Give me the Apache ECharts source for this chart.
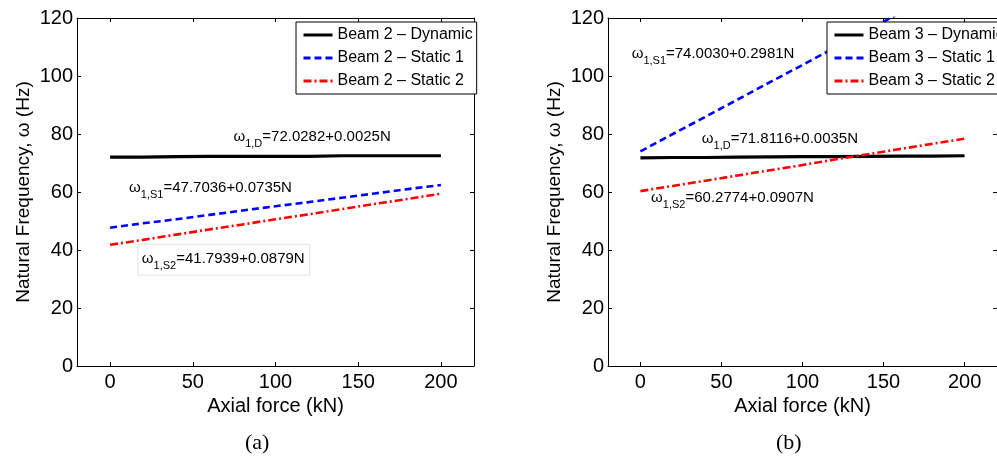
<!DOCTYPE html>
<html><head><meta charset="utf-8">
<script src="https://cdn.jsdelivr.net/npm/echarts@6/dist/echarts.min.js"></script>
<style>html,body{margin:0;padding:0;background:#fff}#c{width:997px;height:456px}</style>
</head><body><div id="c"></div>
<script>
// ---- data ----
const forceKN = [0, 20, 40, 60, 80, 100, 120, 140, 160, 180, 200];
const beam2Dynamic = [72.0, 72.0, 72.2, 72.3, 72.3, 72.3, 72.3, 72.5, 72.5, 72.5, 72.5];
const beam2Static1 = [47.7, 49.2, 50.6, 52.1, 53.6, 55.1, 56.5, 58.0, 59.5, 61.0, 62.4];
const beam2Static2 = [41.8, 43.5, 45.3, 47.1, 48.8, 50.6, 52.3, 54.1, 55.9, 57.6, 59.4];
const beam3Dynamic = [71.8, 71.9, 71.9, 72.0, 72.1, 72.2, 72.2, 72.3, 72.4, 72.4, 72.5];
const beam3Static1 = [74.0, 80.0, 85.9, 91.9, 97.9, 103.8, 109.8, 115.7, 121.7, 127.7, 133.6];
const beam3Static2 = [60.3, 62.1, 63.9, 65.7, 67.5, 69.3, 71.2, 73.0, 74.8, 76.6, 78.4];
const xTicks = [0, 50, 100, 150, 200];
const beam2Names = ['Beam 2 \u2013 Dynamic', 'Beam 2 \u2013 Static 1', 'Beam 2 \u2013 Static 2'];
const beam3Names = ['Beam 3 \u2013 Dynamic', 'Beam 3 \u2013 Static 1', 'Beam 3 \u2013 Static 2'];
// annotation texts: subscript, equation, anchor x (kN), anchor y (Hz)
const ann2Sub = ['1,D', '1,S1', '1,S2'];
const ann2Eq = ['=72.0282+0.0025N', '=47.7036+0.0735N', '=41.7939+0.0879N'];
const ann2X = [74.6, 11.5, 16.8];
const ann2Y = [79.6, 62.0, 37.0];
const ann3Sub = ['1,D', '1,S1', '1,S2'];
const ann3Eq = ['=71.8116+0.0035N', '=74.0030+0.2981N', '=60.2774+0.0907N'];
const ann3X = [37.9, -5.4, 6.6];
const ann3Y = [78.8, 108.0, 58.6];

const FONT = "'Liberation Sans', Arial, sans-serif";
const chart = echarts.init(document.getElementById('c'), null, {renderer: 'canvas'});

const rich = {
  m: {fontSize: 15, fontFamily: FONT, color: '#000', lineHeight: 16, verticalAlign: 'top'},
  s: {fontSize: 11, fontFamily: FONT, color: '#000', lineHeight: 20, verticalAlign: 'bottom'}
};
function annPoint(sub, eq, x, y, boxed) {
  const label = {
    show: true, position: 'right', distance: 0,
    formatter: '{m|\u03c9}{s|' + sub + '}{m|' + eq + '}',
    rich: rich, offset: [0, 4]
  };
  if (boxed) {
    Object.assign(label, {borderColor: '#dde7e7', borderWidth: 1, padding: [7, 5, 0, 4], height: 24, offset: [0, 1]});
  }
  return {coord: [x, y], symbolSize: 0, label: label};
}

const styles = [
  {color: '#000000', width: 3.2, type: 'solid'},
  {color: '#0000ff', width: 2.6, type: [7, 4]},
  {color: '#ff0000', width: 2.6, type: [8, 3, 2, 3]}
];
function mkSeries(name, data, idx, sty, ann) {
  return {
    name: name, type: 'line', xAxisIndex: idx, yAxisIndex: idx,
    data: forceKN.map((f, i) => [f, data[i]]),
    symbol: 'none', showSymbol: false, clip: true, animation: false,
    lineStyle: {color: sty.color, width: sty.width, type: sty.type},
    itemStyle: {color: sty.color},
    markPoint: ann ? {symbol: 'circle', symbolSize: 0, animation: false, data: [ann]} : undefined
  };
}

function xAx(grid, pos, labels) {
  return {
    type: 'value', gridIndex: grid, position: pos, min: -20, max: 220,
    axisLine: {show: true, onZero: false, lineStyle: {color: '#000', width: 1}},
    axisTick: {show: true, inside: true, length: 4, customValues: xTicks, lineStyle: {color: '#000'}},
    axisLabel: {show: labels, customValues: xTicks, fontSize: 20, fontFamily: FONT, color: '#000', margin: 6},
    splitLine: {show: false},
    name: labels ? 'Axial force (kN)' : '', nameLocation: 'middle', nameGap: 22,
    nameTextStyle: {fontSize: 20, fontFamily: FONT, color: '#000'}
  };
}
function yAx(grid, pos, labels) {
  return {
    type: 'value', gridIndex: grid, position: pos, min: 0, max: 120, interval: 20,
    axisLine: {show: true, onZero: false, lineStyle: {color: '#000', width: 1}},
    axisTick: {show: true, inside: true, length: 4, lineStyle: {color: '#000'}},
    axisLabel: {show: labels, fontSize: 20, fontFamily: FONT, color: '#000', margin: 4},
    splitLine: {show: false},
    name: labels ? 'Natural Frequency, \u03c9 (Hz)' : '', nameLocation: 'middle', nameGap: 44, nameRotate: 90,
    nameTextStyle: {fontSize: 19, fontFamily: FONT, color: '#000'}
  };
}
function legendCfg(names, left) {
  return {
    data: names, left: left, top: 22, orient: 'vertical', selectedMode: false,
    itemWidth: 29, itemHeight: 14, itemGap: 7, padding: [5, 4, 5, 6],
    borderColor: '#000', borderWidth: 1, backgroundColor: '#fff', borderRadius: 0,
    itemStyle: {opacity: 0},
    lineStyle: {width: 3},
    textStyle: {fontSize: 16, fontFamily: FONT, color: '#000'}
  };
}

const option = {
  animation: false,
  backgroundColor: '#fff',
  grid: [
    {left: 77, top: 18, width: 397, height: 348},
    {left: 608, top: 18, width: 399, height: 348}
  ],
  xAxis: [xAx(0, 'bottom', true), xAx(0, 'top', false), xAx(1, 'bottom', true), xAx(1, 'top', false)],
  yAxis: [yAx(0, 'left', true), yAx(0, 'right', false), yAx(1, 'left', true), yAx(1, 'right', false)],
  legend: [legendCfg(beam2Names, 296), legendCfg(beam3Names, 827)],
  series: [
    mkSeries(beam2Names[0], beam2Dynamic, 0, styles[0], annPoint(ann2Sub[0], ann2Eq[0], ann2X[0], ann2Y[0], false)),
    mkSeries(beam2Names[1], beam2Static1, 0, styles[1], annPoint(ann2Sub[1], ann2Eq[1], ann2X[1], ann2Y[1], false)),
    mkSeries(beam2Names[2], beam2Static2, 0, styles[2], annPoint(ann2Sub[2], ann2Eq[2], ann2X[2], ann2Y[2], true)),
    mkSeries(beam3Names[0], beam3Dynamic, 2, styles[0], annPoint(ann3Sub[0], ann3Eq[0], ann3X[0], ann3Y[0], false)),
    mkSeries(beam3Names[1], beam3Static1, 2, styles[1], annPoint(ann3Sub[1], ann3Eq[1], ann3X[1], ann3Y[1], false)),
    mkSeries(beam3Names[2], beam3Static2, 2, styles[2], annPoint(ann3Sub[2], ann3Eq[2], ann3X[2], ann3Y[2], false))
  ],
  graphic: [
    {type: 'text', left: 245, top: 432, style: {text: '(a)', font: "22px 'Liberation Serif', serif", fill: '#000'}},
    {type: 'text', left: 776, top: 432, style: {text: '(b)', font: "22px 'Liberation Serif', serif", fill: '#000'}}
  ]
};
chart.setOption(option);
</script>
</body></html>
